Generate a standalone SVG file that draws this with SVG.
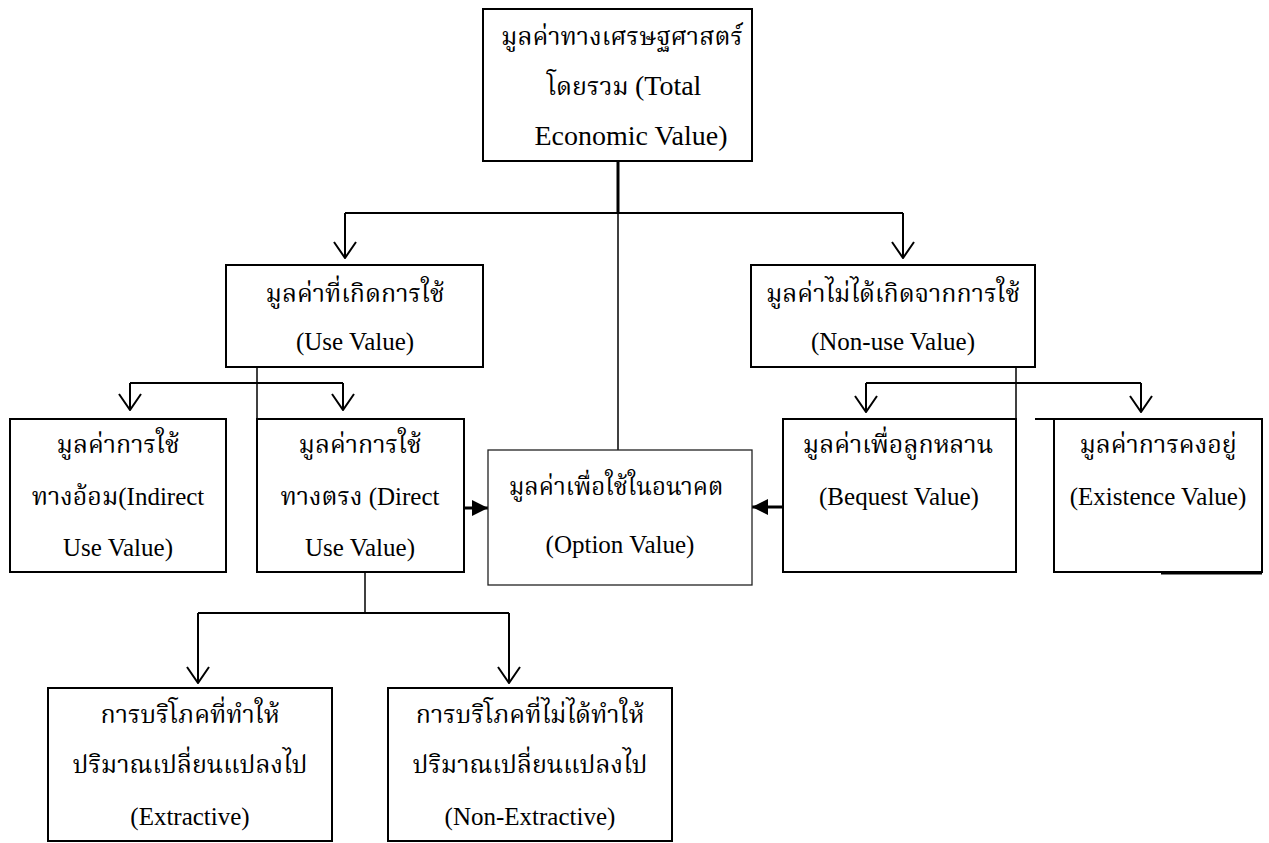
<svg xmlns="http://www.w3.org/2000/svg" width="1269" height="843" viewBox="0 0 1269 843">
<style>
.box{fill:#fff;stroke:#000;stroke-width:2}
.thin{fill:#fff;stroke:#222;stroke-width:1.3}
.t{font-family:"Liberation Serif","Noto Serif Thai","Noto Sans Thai","Garuda","Loma",serif;font-size:25px;fill:#000;text-anchor:middle}
.big{font-size:28px}
.c{fill:none;stroke:#000;stroke-width:2}
.c1{fill:none;stroke:#000;stroke-width:1.5}
.c3{fill:none;stroke:#000;stroke-width:3}
</style>
<defs>
<marker id="open" viewBox="0 0 18 24" markerWidth="18" markerHeight="24" refX="17" refY="12" orient="auto" markerUnits="userSpaceOnUse">
<path d="M1,1 L17,12 L1,23" fill="none" stroke="#000" stroke-width="2"/>
</marker>
<marker id="solid" viewBox="0 0 16 16" markerWidth="16" markerHeight="16" refX="16" refY="8" orient="auto" markerUnits="userSpaceOnUse">
<path d="M0,0 L16,8 L0,16 z" fill="#000"/>
</marker>
</defs>
<rect width="1269" height="843" fill="#fff"/>
<g id="connectors">
<line class="c3" x1="618" y1="161" x2="618" y2="213"/>
<line class="c" x1="345" y1="213" x2="903" y2="213"/>
<line class="c" x1="345" y1="213" x2="345" y2="258" marker-end="url(#open)"/>
<line class="c" x1="903" y1="213" x2="903" y2="258" marker-end="url(#open)"/>
<line class="c1" x1="618" y1="213" x2="618" y2="450"/>
<line class="c1" x1="257" y1="367" x2="257" y2="419"/>
<line class="c" x1="130" y1="383" x2="343" y2="383"/>
<line class="c" x1="130" y1="383" x2="130" y2="410" marker-end="url(#open)"/>
<line class="c" x1="343" y1="383" x2="343" y2="410" marker-end="url(#open)"/>
<line class="c1" x1="1016" y1="367" x2="1016" y2="419"/>
<line class="c" x1="866" y1="383" x2="1141" y2="383"/>
<line class="c" x1="866" y1="383" x2="866" y2="412" marker-end="url(#open)"/>
<line class="c" x1="1141" y1="383" x2="1141" y2="412" marker-end="url(#open)"/>
<line class="c3" x1="464" y1="508" x2="488" y2="508" marker-end="url(#solid)"/>
<line class="c3" x1="783" y1="507" x2="752" y2="507" marker-end="url(#solid)"/>
<line class="c1" x1="365" y1="572" x2="365" y2="613"/>
<line class="c" x1="198" y1="613" x2="509" y2="613"/>
<line class="c" x1="198" y1="613" x2="198" y2="683" marker-end="url(#open)"/>
<line class="c" x1="509" y1="613" x2="509" y2="683" marker-end="url(#open)"/>
</g>
<g id="total">
<rect class="box" x="483" y="9" width="269" height="152"/>
<text class="t" x="622" y="45">มูลค่าทางเศรษฐศาสตร์</text>
<text class="t" x="624" y="95">โดยรวม <tspan class="big">(Total</tspan></text>
<text class="t big" x="631" y="145">Economic Value)</text>
</g>
<g id="use">
<rect class="box" x="226" y="265" width="257" height="102"/>
<text class="t" x="355" y="302">มูลค่าที่เกิดการใช้</text>
<text class="t" x="355" y="350">(Use Value)</text>
</g>
<g id="nonuse">
<rect class="box" x="751" y="265" width="284" height="102"/>
<text class="t" x="893" y="302">มูลค่าไม่ได้เกิดจากการใช้</text>
<text class="t" x="893" y="350">(Non-use Value)</text>
</g>
<g id="indirect">
<rect class="box" x="10" y="419" width="216" height="153"/>
<text class="t" x="118" y="453">มูลค่าการใช้</text>
<text class="t" x="118" y="505">ทางอ้อม(Indirect</text>
<text class="t" x="118" y="556">Use Value)</text>
</g>
<g id="direct">
<rect class="box" x="257" y="419" width="207" height="153"/>
<text class="t" x="360" y="453">มูลค่าการใช้</text>
<text class="t" x="360" y="505">ทางตรง (Direct</text>
<text class="t" x="360" y="556">Use Value)</text>
</g>
<g id="option">
<rect class="thin" x="488" y="450" width="264" height="135"/>
<text class="t" x="616" y="495" style="font-size:24px">มูลค่าเพื่อใช้ในอนาคต</text>
<text class="t" x="620" y="553">(Option Value)</text>
</g>
<g id="bequest">
<rect class="box" x="783" y="419" width="233" height="153"/>
<text class="t" x="898" y="453">มูลค่าเพื่อลูกหลาน</text>
<text class="t" x="899" y="505">(Bequest Value)</text>
</g>
<g id="existence">
<rect class="box" x="1054" y="419" width="208" height="153"/>
<line class="c" x1="1035" y1="419" x2="1054" y2="419"/>
<line class="c" x1="1161" y1="573.5" x2="1262" y2="573.5"/>
<text class="t" x="1158" y="453">มูลค่าการคงอยู่</text>
<text class="t" x="1158" y="505">(Existence Value)</text>
</g>
<g id="extractive">
<rect class="box" x="48" y="688" width="284" height="153"/>
<text class="t" x="190" y="723">การบริโภคที่ทำให้</text>
<text class="t" x="190" y="773">ปริมาณเปลี่ยนแปลงไป</text>
<text class="t" x="190" y="825">(Extractive)</text>
</g>
<g id="nonextractive">
<rect class="box" x="388" y="688" width="284" height="153"/>
<text class="t" x="530" y="723">การบริโภคที่ไม่ได้ทำให้</text>
<text class="t" x="530" y="773">ปริมาณเปลี่ยนแปลงไป</text>
<text class="t" x="530" y="825">(Non-Extractive)</text>
</g>
</svg>
